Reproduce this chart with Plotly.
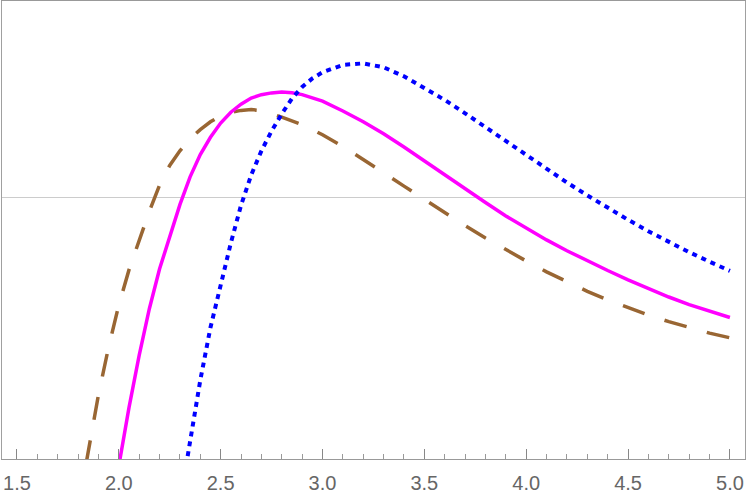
import plotly.graph_objects as go

# ---- data ----
brown_x = [1.84, 1.85, 1.9, 1.95, 2.0, 2.05, 2.1, 2.15, 2.2, 2.25, 2.3, 2.35, 2.4, 2.45, 2.5,
           2.55, 2.6, 2.65, 2.7, 2.75, 2.8, 2.9, 3.0, 3.1, 3.2, 3.3, 3.4, 3.5, 3.6, 3.7,
           3.8, 3.9, 4.0, 4.1, 4.2, 4.3, 4.4, 4.5, 4.6, 4.7, 4.8, 4.9, 5.0]
brown_y = [-2.655, -2.54, -1.975, -1.495, -1.076, -0.724, -0.418, -0.137, 0.123, 0.321,
           0.467, 0.586, 0.679, 0.757, 0.817, 0.851, 0.871, 0.879, 0.869, 0.841, 0.804,
           0.729, 0.627, 0.511, 0.384, 0.248, 0.114, -0.02, -0.155, -0.282, -0.405,
           -0.522, -0.635, -0.744, -0.845, -0.938, -1.024, -1.103, -1.176, -1.241,
           -1.302, -1.356, -1.403]

magenta_x = [2.0, 2.05, 2.1, 2.15, 2.2, 2.25, 2.3, 2.35, 2.4, 2.45, 2.5, 2.55, 2.6, 2.65,
             2.7, 2.75, 2.8, 2.85, 2.9, 3.0, 3.1, 3.2, 3.3, 3.4, 3.5, 3.6, 3.7, 3.8, 3.9,
             4.0, 4.1, 4.2, 4.3, 4.4, 4.5, 4.6, 4.7, 4.8, 4.9, 5.0]
magenta_y = [-2.685, -2.101, -1.579, -1.112, -0.715, -0.384, -0.071, 0.207, 0.43, 0.602,
             0.745, 0.853, 0.933, 0.994, 1.028, 1.046, 1.055, 1.048, 1.029, 0.963, 0.865,
             0.757, 0.637, 0.505, 0.365, 0.225, 0.086, -0.05, -0.184, -0.307, -0.424,
             -0.532, -0.633, -0.73, -0.823, -0.912, -0.995, -1.072, -1.139, -1.2]

blue_x = [2.33, 2.35, 2.4, 2.45, 2.5, 2.55, 2.6, 2.65, 2.7, 2.75, 2.8, 2.85, 2.9, 2.95, 3.0,
          3.1, 3.2, 3.3, 3.4, 3.5, 3.6, 3.7, 3.8, 3.9, 4.0, 4.1, 4.2, 4.3, 4.4, 4.5, 4.6,
          4.7, 4.8, 4.9, 5.0]
blue_y = [-2.685, -2.423, -1.828, -1.3, -0.861, -0.455, -0.078, 0.225, 0.466, 0.665, 0.836,
          0.99, 1.105, 1.19, 1.252, 1.326, 1.341, 1.302, 1.212, 1.097, 0.975, 0.842,
          0.702, 0.56, 0.42, 0.283, 0.15, 0.021, -0.103, -0.223, -0.338, -0.446, -0.547,
          -0.642, -0.734]

x_ticks = [1.5, 2.0, 2.5, 3.0, 3.5, 4.0, 4.5, 5.0]
x_tick_labels = ["1.5", "2.0", "2.5", "3.0", "3.5", "4.0", "4.5", "5.0"]

fig = go.Figure()
fig.add_trace(go.Scatter(x=brown_x, y=brown_y, mode="lines",
                         line=dict(color="#996633", width=3.5, dash="23px,21px"),
                         showlegend=False, hoverinfo="skip"))
fig.add_trace(go.Scatter(x=magenta_x, y=magenta_y, mode="lines",
                         line=dict(color="#ff00ff", width=3.5),
                         showlegend=False, hoverinfo="skip"))
fig.add_trace(go.Scatter(x=blue_x, y=blue_y, mode="lines",
                         line=dict(color="#0000ff", width=4, dash="5px,5px"),
                         showlegend=False, hoverinfo="skip"))

fig.update_layout(
    width=750, height=498,
    margin=dict(l=2, r=5, t=1, b=39),
    paper_bgcolor="white", plot_bgcolor="white",
    font=dict(family="Liberation Sans, Arial, sans-serif", size=20, color="#666666"),
)
fig.update_xaxes(
    range=[1.4266, 5.0741], showgrid=False, zeroline=False,
    showline=True, mirror=True, linecolor="#999999", linewidth=1,
    tickmode="array", tickvals=x_ticks, ticktext=x_tick_labels,
    ticks="inside", ticklen=10, tickwidth=1, tickcolor="#888888",
    minor=dict(dtick=0.1, tick0=1.5, ticks="inside", ticklen=5, tickwidth=1, tickcolor="#999999", showgrid=False),
    tickfont=dict(size=20, color="#666666"),
    ticklabelstandoff=6,
)
fig.update_yaxes(
    range=[-2.615, 1.965], showgrid=False, showticklabels=False, ticks="",
    zeroline=True, zerolinecolor="#cccccc", zerolinewidth=1,
    showline=True, mirror=True, linecolor="#a0a0a0", linewidth=1,
)

fig.write_html("out.html")
